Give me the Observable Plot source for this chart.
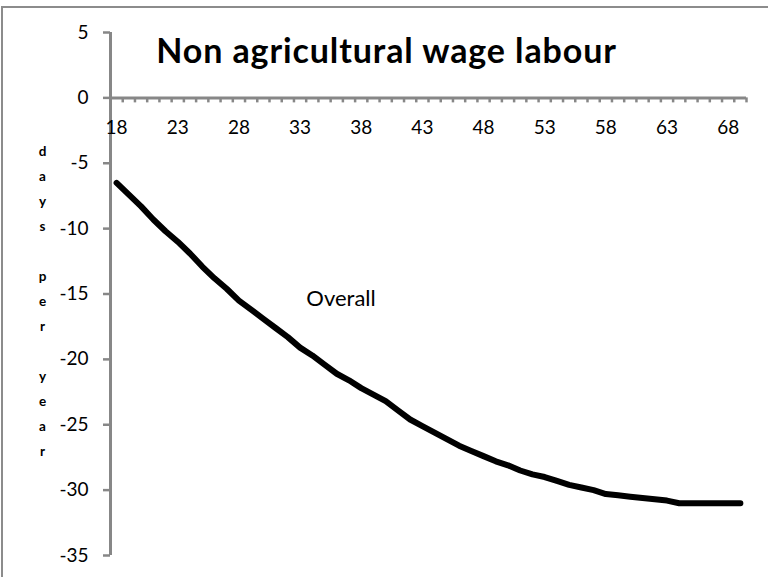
<!DOCTYPE html>
<html>
<head>
<meta charset="utf-8">
<script src="https://cdn.jsdelivr.net/npm/d3@7"></script>
<script src="https://cdn.jsdelivr.net/npm/@observablehq/plot@0.6"></script>
<style>
  html, body { margin: 0; padding: 0; background: #fff; }
  #wrap { position: relative; width: 768px; height: 577px; overflow: hidden; }
  #frame { position: absolute; left: 1px; top: 6px; width: 900px; height: 700px;
           border-top: 2px solid #8c8c8c; border-left: 2px solid #8c8c8c; }
  #chart { position: absolute; left: 0; top: 0; }
</style>
</head>
<body>
<div id="wrap"><div id="frame"></div><div id="chart"></div></div>
<script>
// Data
const ages = [18,19,20,21,22,23,24,25,26,27,28,29,30,31,32,33,34,35,36,37,38,39,40,41,42,43,
              44,45,46,47,48,49,50,51,52,53,54,55,56,57,58,59,60,61,62,63,64,65,66,67,68,69];
const overall = [-6.5,-7.4,-8.3,-9.3,-10.2,-11.0,-11.9,-12.9,-13.8,-14.6,-15.5,-16.2,-16.9,-17.6,-18.3,-19.1,
                 -19.7,-20.4,-21.1,-21.6,-22.2,-22.7,-23.2,-23.9,-24.6,-25.1,-25.6,-26.1,-26.6,-27.0,-27.4,-27.8,
                 -28.1,-28.5,-28.8,-29.0,-29.3,-29.6,-29.8,-30.0,-30.3,-30.4,-30.5,-30.6,-30.7,-30.8,-31.0,-31.0,
                 -31.0,-31.0,-31.0,-31.0];
const xTickLabels = [18,23,28,33,38,43,48,53,58,63,68];
const yTicks = [-35,-30,-25,-20,-15,-10,-5,0,5];
const xDomain = [17.5, 69.5];
const yDomain = [-35, 5];
const seriesLabel = [{x: 36.35, y: -15.38, text: "Overall"}];
const title = "Non agricultural wage labour";
const yTitle = "days per year";

const data = ages.map((a, i) => ({age: a, value: overall[i]}));
// category boundaries (Excel-style tick marks between categories)
const xBounds = ages.map(a => a - 0.5).concat([ages[ages.length - 1] + 0.5]);

const W = 768, H = 577, mL = 110, mR = 22, mT = 32, mB = 22;
const tickUnits = 5 * (yDomain[1] - yDomain[0]) / (H - mT - mB);
const axisColor = "#878787";
const font = "Lato, 'Open Sans', sans-serif";

const chart = Plot.plot({
  width: W, height: H,
  marginLeft: mL, marginRight: mR, marginTop: mT, marginBottom: mB,
  style: {fontFamily: font, background: "transparent", overflow: "visible"},
  x: {domain: xDomain, axis: null},
  y: {domain: yDomain, axis: null},
  marks: [
    Plot.ruleX(xBounds, {x: d => d, y1: 0, y2: -tickUnits, stroke: axisColor, strokeWidth: 2.5}),
    Plot.ruleY([0], {x1: xDomain[0], x2: xDomain[1], stroke: axisColor, strokeWidth: 3}),
    Plot.axisY({ticks: yTicks, tickSize: 7, tickPadding: 15, tickFormat: d => String(d),
                stroke: axisColor, strokeWidth: 2.5, fill: "#000", fontSize: 19, fontFamily: font}),
    Plot.ruleX([xDomain[0]], {y1: yDomain[0], y2: yDomain[1], stroke: axisColor, strokeWidth: 3}),
    Plot.text(xTickLabels, {x: d => d, y: 0, text: d => String(d), dy: 30, fontSize: 19,
                            fontFamily: font, fill: "#000"}),
    Plot.line(data, {x: "age", y: "value", stroke: "#000", strokeWidth: 6,
                     strokeLinecap: "round", strokeLinejoin: "round"}),
    Plot.text(seriesLabel, {x: "x", y: "y", text: "text", fontSize: 22, fontFamily: font, fill: "#000"}),
    Plot.text([title], {frameAnchor: "top", text: d => d, dx: -42, dy: 6, fontSize: 34,
                        fontWeight: "bold", fontFamily: font, fill: "#000", className: "ttl"}),
    Plot.text([yTitle.split("").join("\n")], {frameAnchor: "left", text: d => d, dx: -68, dy: 4,
                        textAnchor: "middle", lineAnchor: "middle", lineHeight: 1.85,
                        fontSize: 13.5, fontWeight: "bold", fontFamily: font, fill: "#000"})
  ]
});
d3.select(chart).selectAll("g.ttl text").style("letter-spacing", "0.9px");
document.getElementById("chart").appendChild(chart);
</script>
</body>
</html>
